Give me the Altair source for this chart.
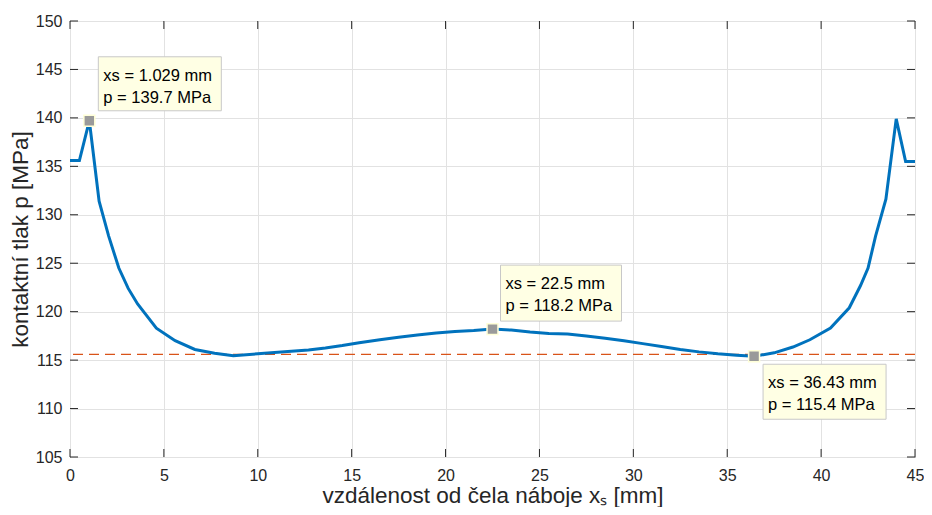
import altair as alt
import pandas as pd

# ---- data ----
xs = [0.0, 0.5, 1.029, 1.55, 2.06, 2.6, 3.1, 3.6, 4.6, 5.6, 6.65, 7.7, 8.7, 10.0,
      11.6, 12.7, 13.6, 14.5, 15.4, 16.5, 17.5, 18.5, 19.5, 20.5, 21.5, 22.5, 23.5,
      24.5, 25.5, 26.5, 27.5, 28.5, 29.5, 30.5, 31.5, 32.5, 33.5, 34.5, 35.5, 36.43,
      37.5, 38.5, 39.4, 40.5, 41.5, 42.1, 42.5, 42.9, 43.45, 44.0, 44.5, 45.0]
p = [135.6, 135.6, 139.7, 131.4, 127.8, 124.5, 122.4, 120.8, 118.3, 117.0, 116.1, 115.7,
     115.45, 115.65, 115.9, 116.05, 116.25, 116.5, 116.8, 117.1, 117.35, 117.6, 117.8,
     117.95, 118.05, 118.2, 118.1, 117.9, 117.75, 117.7, 117.5, 117.25, 117.0, 116.7,
     116.4, 116.1, 115.85, 115.65, 115.5, 115.4, 115.75, 116.35, 117.1, 118.3, 120.4,
     122.7, 124.5, 127.8, 131.6, 139.9, 135.5, 135.5]
ref_level = [115.6]

tip_x = [1.029, 22.5, 36.43]
tip_p = [139.7, 118.2, 115.4]
tip_line1 = ["xs = 1.029 mm", "xs = 22.5 mm", "xs = 36.43 mm"]
tip_line2 = ["p = 139.7 MPa", "p = 118.2 MPa", "p = 115.4 MPa"]

x_ticks = [0, 5, 10, 15, 20, 25, 30, 35, 40, 45]
y_ticks = [105, 110, 115, 120, 125, 130, 135, 140, 145, 150]

x_title = "vzdálenost od čela náboje xₛ [mm]"
y_title = "kontaktní tlak p [MPa]"

# ---- layout / style ----
W, H = 845, 436
TICK = 8
FONT = "Liberation Sans"
BLUE = "#0072BD"
ORANGE = "#D95319"
TXT = "#262626"

# datatip box placement (pixel offsets from the marked point): left, right, top, bottom, text dx, line dy1, dy2
tip_layout = [
    (9, 132, -64, -10, 14, -45, -23),
    (8, 129, -64, -8, 13, -45, -23),
    (9, 132, 8, 63, 14, 27, 49),
]

xscale = alt.Scale(domain=[0, 45], nice=False, zero=False)
yscale = alt.Scale(domain=[105, 150], nice=False, zero=False)
common_ax = dict(grid=True, ticks=False, domain=False, format="d", labelFlush=False,
                 labelFont=FONT, labelFontSize=16, labelColor=TXT,
                 titleFont=FONT, titleFontSize=22.5, titleFontWeight="normal",
                 titleColor=TXT, gridColor="#E2E2E2", gridWidth=1)
X_AX = alt.Axis(values=x_ticks, labelPadding=10, titlePadding=1, **common_ax)
Y_AX = alt.Axis(values=y_ticks, labelPadding=8, titlePadding=3, **common_ax)


def X(field):
    return alt.X(field, scale=xscale, axis=X_AX, title=x_title)


def Y(field):
    return alt.Y(field, scale=yscale, axis=Y_AX, title=y_title)


curve = pd.DataFrame({"x": xs, "p": p})

line = alt.Chart(curve).mark_line(color=BLUE, strokeWidth=3).encode(
    x=X("x:Q"), y=Y("p:Q"))

ref = alt.Chart(pd.DataFrame({"p": ref_level})).mark_rule(
    color=ORANGE, strokeWidth=1.2, strokeDash=[10, 6]
).encode(y=Y("p:Q"))

xt = pd.DataFrame({"x": x_ticks})
yt = pd.DataFrame({"p": y_ticks})
tick_style = dict(color=TXT, strokeWidth=1)
xtick_b = alt.Chart(xt).mark_rule(**tick_style).encode(
    x=X("x:Q"), y=alt.value(H), y2=alt.value(H - TICK))
xtick_t = alt.Chart(xt).mark_rule(**tick_style).encode(
    x=X("x:Q"), y=alt.value(0), y2=alt.value(TICK))
ytick_l = alt.Chart(yt).mark_rule(**tick_style).encode(
    y=Y("p:Q"), x=alt.value(0), x2=alt.value(TICK))
ytick_r = alt.Chart(yt).mark_rule(**tick_style).encode(
    y=Y("p:Q"), x=alt.value(W), x2=alt.value(W - TICK))

layers = [ref, line, xtick_b, xtick_t, ytick_l, ytick_r]

for i in range(len(tip_x)):
    l, r, t, b, tdx, dy1, dy2 = tip_layout[i]
    d = pd.DataFrame({"x": [tip_x[i]], "p": [tip_p[i]],
                      "l1": [tip_line1[i]], "l2": [tip_line2[i]]})
    base = alt.Chart(d)
    enc = dict(x=X("x:Q"), y=Y("p:Q"))
    box = base.mark_rect(fill="#FFFFE4", stroke="#C8C8C8", strokeWidth=1,
                         xOffset=l, x2Offset=r, yOffset=t, y2Offset=b).encode(
        x2="x:Q", y2="p:Q", **enc)
    t1 = base.mark_text(align="left", baseline="middle", dx=tdx, dy=dy1,
                        font=FONT, fontSize=16.5, color="#000000").encode(
        text="l1:N", **enc)
    t2 = base.mark_text(align="left", baseline="middle", dx=tdx, dy=dy2,
                        font=FONT, fontSize=16.5, color="#000000").encode(
        text="l2:N", **enc)
    marker = base.mark_square(size=120, fill="#9A9A9A", stroke="#FFFFD8",
                              strokeWidth=1.5, opacity=1).encode(**enc)
    layers += [box, t1, t2, marker]

chart = alt.layer(*layers).properties(
    width=W, height=H,
    autosize=alt.AutoSizeParams(type="none"),
    padding={"left": 62, "top": 13, "right": 9, "bottom": 50},
    background="white",
).configure_view(
    stroke=TXT, strokeWidth=1
)

chart.save("out.html", embed_options={"renderer": "svg", "actions": False})
